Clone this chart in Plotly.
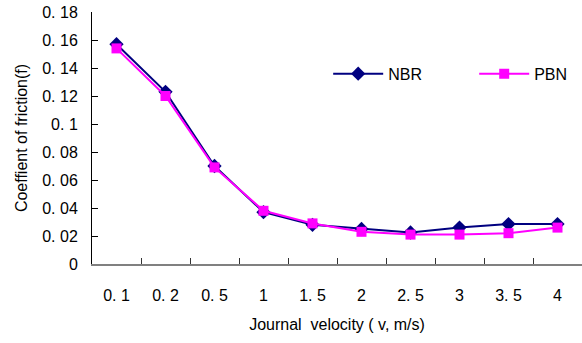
import plotly.graph_objects as go

categories = ["0.1", "0.2", "0.5", "1", "1.5", "2", "2.5", "3", "3.5", "4"]
tick_labels = ["0. 1", "0. 2", "0. 5", "1", "1. 5", "2", "2. 5", "3", "3. 5", "4"]
nbr = [0.157, 0.123, 0.070, 0.037, 0.028, 0.025, 0.0225, 0.026, 0.0285, 0.0285]
pbn = [0.154, 0.120, 0.069, 0.038, 0.029, 0.023, 0.021, 0.021, 0.022, 0.026]
y_ticks = [0, 0.02, 0.04, 0.06, 0.08, 0.1, 0.12, 0.14, 0.16, 0.18]
y_tick_text = ["0", "0. 02", "0. 04", "0. 06", "0. 08", "0. 1", "0. 12", "0. 14", "0. 16", "0. 18"]

font = "Liberation Sans, Arial, sans-serif"

fig = go.Figure()
fig.add_trace(go.Scatter(x=categories, y=nbr, name="NBR", mode="lines+markers",
                         line=dict(color="#000080", width=2),
                         marker=dict(symbol="diamond", size=11, color="#000080"),
                         legend="legend"))
fig.add_trace(go.Scatter(x=categories, y=pbn, name="PBN", mode="lines+markers",
                         line=dict(color="#FF00FF", width=2),
                         marker=dict(symbol="square", size=10, color="#FF00FF"),
                         legend="legend2"))

leg_common = dict(orientation="h", yanchor="middle", xanchor="left",
                  bgcolor="rgba(0,0,0,0)", font=dict(size=16), itemwidth=50)

fig.update_layout(
    width=582, height=343,
    margin=dict(l=92, r=0, t=12, b=79),
    paper_bgcolor="white", plot_bgcolor="white",
    font=dict(family=font, size=16, color="black"),
    showlegend=True,
    legend=dict(x=0.482, y=0.755, **leg_common),
    legend2=dict(x=0.78, y=0.755, **leg_common),
    xaxis=dict(type="category", tickmode="array", tickvals=categories, ticktext=tick_labels,
               tickson="boundaries", ticks="inside", ticklen=6, tickcolor="#333",
               showline=True, linecolor="#808080", linewidth=2, showgrid=False,
               zeroline=False, range=[-0.5, 9.5], ticklabelstandoff=16,
               title=dict(text="Journal  velocity ( v, m/s)", standoff=16, font=dict(size=16)),
               tickfont=dict(size=16)),
    yaxis=dict(range=[0, 0.18], tickmode="array", tickvals=y_ticks, ticktext=y_tick_text,
               ticks="inside", ticklen=6, tickcolor="black", showline=True,
               linecolor="black", linewidth=1, showgrid=False, zeroline=False,
               ticklabelstandoff=10,
               title=dict(text="Coeffient of friction(f)", standoff=10, font=dict(size=16)),
               tickfont=dict(size=16)),
)

fig.write_html("out.html")
